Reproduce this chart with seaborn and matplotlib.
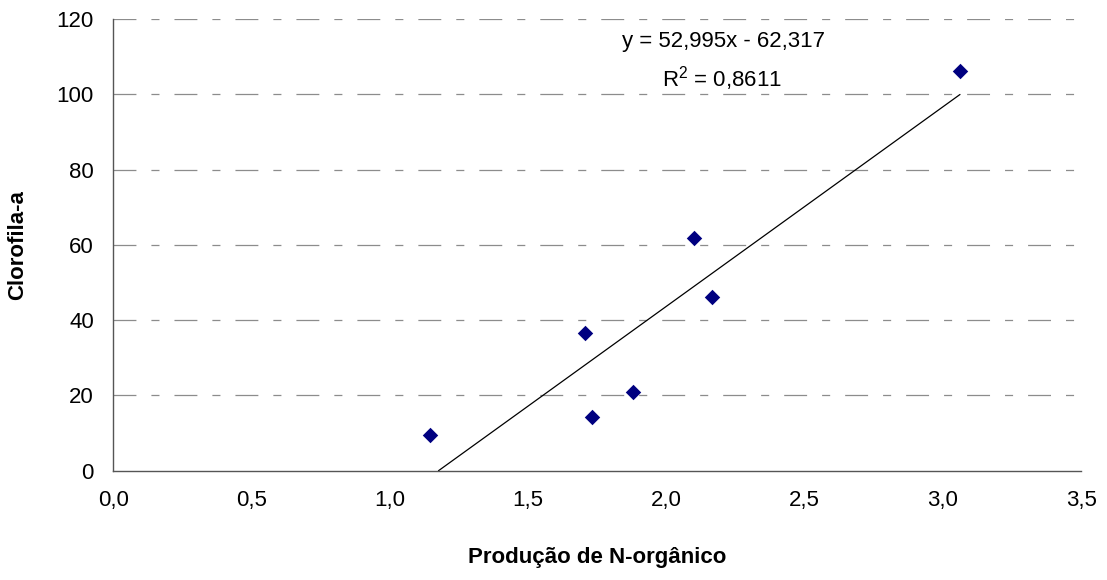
import matplotlib
matplotlib.use("Agg")
import matplotlib.pyplot as plt
import seaborn as sns
import numpy as np
import pandas as pd

# Data
producao_n = [1.145, 1.707, 1.731, 1.881, 2.100, 2.165, 3.062]
clorofila = [9.5, 36.6, 14.2, 21.0, 61.8, 46.1, 106.2]
slope = 52.995
intercept = -62.317
eq_label = "y = 52,995x - 62,317"
r2_label = "R$^{2}$ = 0,8611"
x_ticks = [0.0, 0.5, 1.0, 1.5, 2.0, 2.5, 3.0, 3.5]
x_tick_labels = ["0,0", "0,5", "1,0", "1,5", "2,0", "2,5", "3,0", "3,5"]
y_ticks = [0, 20, 40, 60, 80, 100, 120]
y_tick_labels = ["0", "20", "40", "60", "80", "100", "120"]

sns.set_theme(style="white")
plt.rcParams["font.family"] = ["Liberation Sans", "DejaVu Sans"]
plt.rcParams["lines.scale_dashes"] = False
plt.rcParams["text.color"] = "black"
plt.rcParams["mathtext.fontset"] = "custom"
plt.rcParams["mathtext.rm"] = "Liberation Sans"
plt.rcParams["mathtext.it"] = "Liberation Sans"
plt.rcParams["mathtext.default"] = "regular"

df = pd.DataFrame({"x": producao_n, "y": clorofila})

fig = plt.figure(figsize=(11.07, 5.80), dpi=100)
ax = fig.add_axes([0.1024, 0.1884, 0.8742, 0.7788])

# grid lines (dashed, not at 0)
for yv in y_ticks[1:]:
    ax.axhline(yv, color="#8c8c8c", lw=0.9, linestyle=(0, (16.5, 10.8, 5.8, 10.8)), zorder=0)

sns.scatterplot(data=df, x="x", y="y", marker="D", s=62, color="#000080",
                edgecolor="#000080", linewidth=0, ax=ax, zorder=3)

# trend line from y=0 to max x
x0 = -intercept / slope
x1 = max(producao_n)
xs = np.array([x0, x1])
ax.plot(xs, slope * xs + intercept, color="black", lw=0.9, zorder=2)

ax.set_xlim(0, 3.5)
ax.set_ylim(0, 120)
ax.set_xticks(x_ticks)
ax.set_xticklabels(x_tick_labels)
ax.set_yticks(y_ticks)
ax.set_yticklabels(y_tick_labels)

for s in ["top", "right"]:
    ax.spines[s].set_visible(False)
for s in ["left", "bottom"]:
    ax.spines[s].set_color("#555555")
    ax.spines[s].set_linewidth(1.0)

ax.tick_params(axis="both", which="major", direction="out", length=6, width=1,
               color="#333333", labelsize=16, labelcolor="black")
ax.tick_params(axis="x", pad=8)
ax.tick_params(axis="y", pad=8)

ax.set_xlabel("Produção de N-orgânico", fontsize=16, fontweight="bold",
              labelpad=26, color="black")
ax.set_ylabel("Clorofila-a", fontsize=16, fontweight="bold", color="black",
              va="center")
ax.yaxis.set_label_coords(-0.0985, 0.5)

ax.text(2.207, 113.9, eq_label, ha="center", va="center", fontsize=16, color="black")
ax.text(2.20, 104.3, r2_label, ha="center", va="center", fontsize=16, color="black")

fig.savefig("out.png", dpi=100)
